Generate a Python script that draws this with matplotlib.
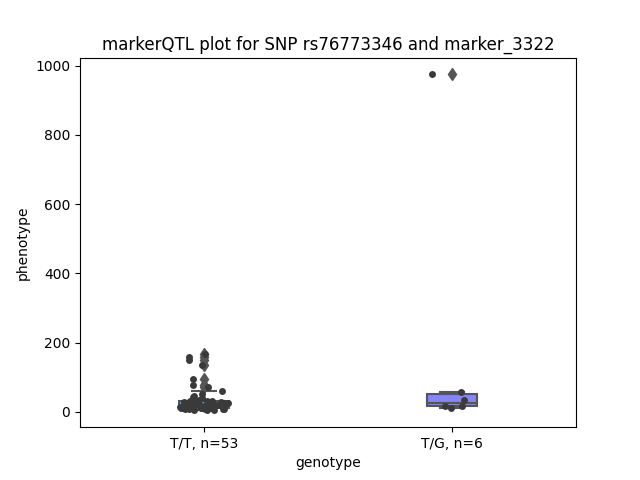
import numpy as np
import pandas as pd
import matplotlib
matplotlib.use('Agg')
import matplotlib.pyplot as plt
import seaborn as sns

snp = 'rs76773346'
marker = 'marker_3322'

genotypes = ['T/T', 'T/G']

# phenotype values per genotype
pheno_TT = [4, 5, 6, 7, 8, 8, 9, 9, 10, 10, 11, 11, 12,
            12,
            13, 13, 14, 15, 15, 16, 17, 17, 18, 18, 19, 19,
            20,
            21, 22, 23, 24, 25, 26, 27, 28, 29, 30, 30, 31,
            32,
            34, 40, 42, 45, 52, 61, 72, 78, 95, 136, 150, 158, 168]
pheno_TG = [975, 12, 18, 18, 34, 58]

box_colors = ['#45a5e5', '#8585f5']

df = pd.DataFrame({
    'genotype': ['T/T'] * len(pheno_TT) + ['T/G'] * len(pheno_TG),
    'phenotype': pheno_TT + pheno_TG,
})
counts = df['genotype'].value_counts()
labels = ['%s, n=%d' % (g, counts[g]) for g in genotypes]

np.random.seed(3)

fig, ax = plt.subplots(figsize=(6.4, 4.8), dpi=100)
sns.boxplot(data=df, x='genotype', y='phenotype', order=genotypes,
            hue='genotype', hue_order=genotypes, palette=box_colors,
            saturation=1, width=0.2, linecolor='#555555', linewidth=1.5,
            flierprops={'marker': 'd', 'markersize': 6,
                        'markerfacecolor': '#555555', 'markeredgecolor': '#555555'},
            legend=False, ax=ax)
sns.stripplot(data=df, x='genotype', y='phenotype', order=genotypes,
              color='#3a3a3a', size=5, jitter=True, ax=ax)

ax.set_xticks([0, 1])
ax.set_xticklabels(labels)
ax.set_xlabel('genotype')
ax.set_ylabel('phenotype')
ax.set_title('markerQTL plot for SNP %s and %s' % (snp, marker))

plt.savefig('out.png', dpi=100)
